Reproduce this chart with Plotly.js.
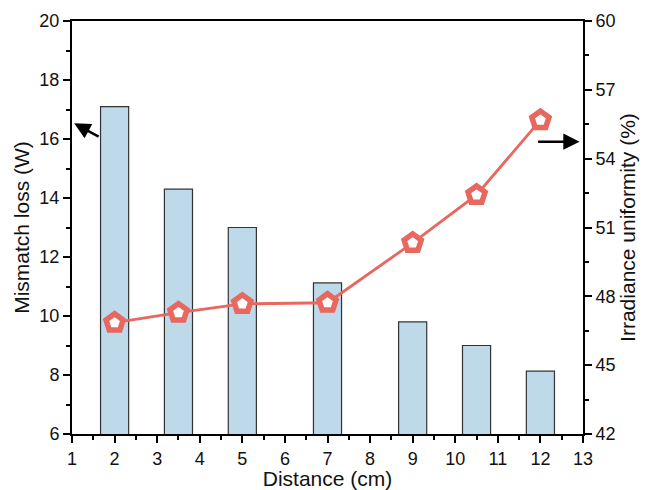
<!DOCTYPE html>
<html><head><meta charset="utf-8">
<script src="https://cdn.plot.ly/plotly-3.0.1.min.js"></script>
<style>body{margin:0;background:#fff}#c{width:647px;height:490px}</style>
</head><body><div id="c"></div>
<script>
const distance = [2, 3.5, 5, 7, 9, 10.5, 12];
const mismatchLoss = [17.1, 14.3, 13.0, 11.12, 9.8, 9.0, 8.13];
const uniformity = [46.85, 47.29, 47.67, 47.72, 50.33, 52.42, 55.68];

const font = {family: 'Liberation Sans, Arial, sans-serif', color: '#111'};
const bars = {
  type: 'bar', x: distance, y: mismatchLoss, width: 0.66,
  marker: {color: '#bdd9ea', line: {color: '#333', width: 1.2}},
  yaxis: 'y', showlegend: false
};
const line = {
  type: 'scatter', mode: 'lines+markers', x: distance, y: uniformity, yaxis: 'y2',
  line: {color: '#e8675f', width: 2.8},
  marker: {symbol: 'pentagon', size: 18, color: '#fff', line: {color: '#e8675f', width: 5.5}},
  showlegend: false
};
const axBase = {showgrid: false, zeroline: false, showline: true, linecolor: '#000', linewidth: 2,
  ticks: 'outside', ticklen: 7, tickwidth: 2, tickcolor: '#000', tickfont: {...font, size: 18}};
const layout = {
  width: 647, height: 490,
  margin: {l: 72, r: 64, t: 21, b: 56},
  paper_bgcolor: '#fff', plot_bgcolor: '#fff',
  font: font,
  xaxis: {...axBase, range: [1, 13], dtick: 1, tick0: 1, mirror: false,
    minor: {ticks: 'outside', ticklen: 4, dtick: 0.5, tickwidth: 2, tickcolor: '#000'},
    title: {text: 'Distance (cm)', font: {...font, size: 21}, standoff: 3}},
  xaxis2: {overlaying: 'x', side: 'top', range: [1, 13], showline: true, linecolor: '#000', linewidth: 2,
    showticklabels: false, ticks: '', showgrid: false, zeroline: false},
  yaxis: {...axBase, range: [6, 20], dtick: 2,
    minor: {ticks: 'outside', ticklen: 4, dtick: 1, tickwidth: 2, tickcolor: '#000'},
    title: {text: 'Mismatch loss (W)', font: {...font, size: 21}, standoff: 4}},
  yaxis2: {...axBase, overlaying: 'y', side: 'right', range: [42, 60], dtick: 3,
    minor: {ticks: 'outside', ticklen: 4, dtick: 1.5, tickwidth: 2, tickcolor: '#000'},
    title: {text: 'Irradiance uniformity (%)', font: {...font, size: 21}, standoff: 6}},
  annotations: [
    {x: 1.05, y: 16.53, xref: 'x', yref: 'y', ax: 26, ay: 14, showarrow: true, arrowhead: 2,
     arrowsize: 1.3, arrowwidth: 2.5, arrowcolor: '#000', text: ''},
    {x: 12.92, y: 15.91, xref: 'x', yref: 'y', ax: -43, ay: 0, showarrow: true, arrowhead: 2,
     arrowsize: 1.3, arrowwidth: 2.5, arrowcolor: '#000', text: ''}
  ]
};
const topLine = {type: 'scatter', x: [1], y: [6], xaxis: 'x2', yaxis: 'y', mode: 'none', showlegend: false, hoverinfo: 'skip'};
Plotly.newPlot('c', [bars, line, topLine], layout, {displayModeBar: false});
</script></body></html>
